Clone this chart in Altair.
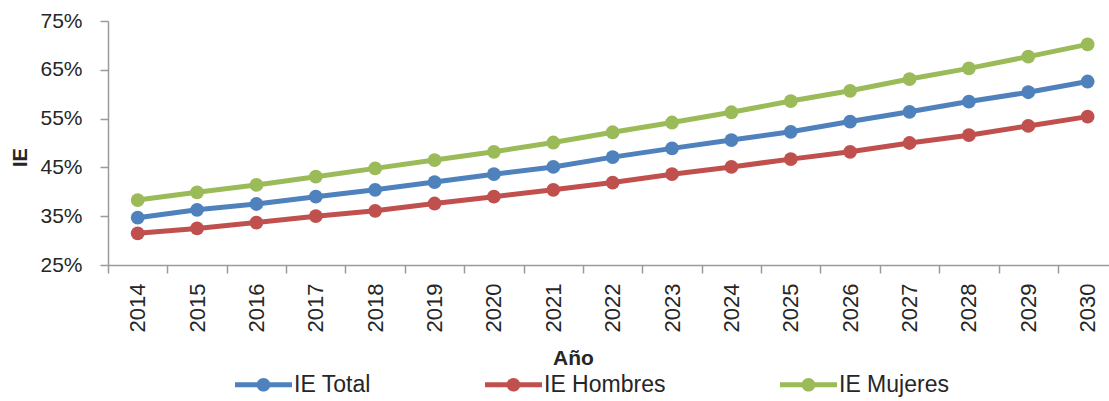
import altair as alt
import pandas as pd

years = list(range(2014, 2031))
ie_total = [34.7, 36.3, 37.5, 39.0, 40.4, 42.0, 43.6, 45.1, 47.1, 48.9, 50.6, 52.3, 54.4, 56.4, 58.5, 60.4, 62.6]
ie_hombres = [31.5, 32.5, 33.7, 35.0, 36.1, 37.6, 39.0, 40.4, 41.9, 43.6, 45.1, 46.7, 48.2, 50.0, 51.6, 53.5, 55.4]
ie_mujeres = [38.3, 39.9, 41.4, 43.1, 44.8, 46.5, 48.2, 50.1, 52.2, 54.2, 56.3, 58.6, 60.7, 63.1, 65.3, 67.7, 70.2]
series_names = ["IE Total", "IE Hombres", "IE Mujeres"]
series_colors = ["#4F81BD", "#C0504D", "#9BBB59"]
y_ticks = [0.25, 0.35, 0.45, 0.55, 0.65, 0.75]

rows = []
for name, vals in zip(series_names, [ie_total, ie_hombres, ie_mujeres]):
    for yr, v in zip(years, vals):
        rows.append({"Año": yr, "IE": v / 100.0, "Serie": name})
df = pd.DataFrame(rows)

PLOT_W = 1001
PLOT_H = 244
X_MIN = 2013.5
X_MAX = 2030.36
STEP = PLOT_W / (X_MAX - X_MIN)

FONT = "Liberation Sans"
TXT = "#262626"
AX = "#9a9a9a"

legend_sym = ("M-1,-0.09H1V0.09H-1Z "
              "M0.24,0A0.24,0.24 0 1,1 -0.24,0A0.24,0.24 0 1,1 0.24,0Z")

x_enc = alt.X(
    "Año:Q",
    scale=alt.Scale(domain=[X_MIN, X_MAX], nice=False, zero=False),
    axis=alt.Axis(
        values=years, format="d", labelAngle=270, labelAlign="right",
        labelBaseline="middle", tickOffset=-STEP / 2, labelOffset=STEP / 2,
        tickSize=8, labelPadding=10, labelFontSize=22, labelFont=FONT,
        labelColor=TXT, domainColor=AX, tickColor=AX, domainWidth=1.5,
        tickWidth=1.5, grid=False, title="Año", titleFont=FONT,
        titleFontSize=21, titleFontWeight="bold", titleColor=TXT,
        titleX=465, titleY=99, titleAlign="center", titleBaseline="alphabetic",
        labelOverlap=False,
    ),
)
y_enc = alt.Y(
    "IE:Q",
    scale=alt.Scale(domain=[0.25, 0.75], nice=False, zero=False),
    axis=alt.Axis(
        values=y_ticks, format=".0%", tickSize=8, labelPadding=18,
        labelFontSize=21, labelFont=FONT, labelColor=TXT, domainColor=AX,
        tickColor=AX, domainWidth=1.5, tickWidth=1.5, grid=False, title="IE",
        titleFont=FONT, titleFontSize=20, titleFontWeight="bold",
        titleColor=TXT, titleAngle=270, titleX=-88, titleY=136,
        titleAlign="center", titleBaseline="middle", labelOverlap=False,
    ),
)
color_enc = alt.Color(
    "Serie:N",
    scale=alt.Scale(domain=series_names, range=series_colors),
    legend=alt.Legend(
        orient="none", legendX=127, legendY=335, direction="horizontal",
        title=None, symbolType=legend_sym, symbolSize=57 * 57,
        symbolStrokeWidth=0, symbolOpacity=1, labelFontSize=23,
        labelFont=FONT, labelColor=TXT, labelOffset=2, columnPadding=114,
        labelLimit=0, padding=0,
    ),
)

base = alt.Chart(df)
lines = base.mark_line(strokeWidth=5).encode(
    x=x_enc, y=y_enc, color=color_enc, detail="Serie:N"
)
points = base.mark_point(filled=True, size=190, opacity=1).encode(
    x=x_enc, y=y_enc, color=color_enc
)

chart = (
    alt.layer(lines, points)
    .properties(
        width=PLOT_W, height=PLOT_H,
        autosize=alt.AutoSizeParams(type="none"),
        padding={"left": 108, "top": 21, "right": 0, "bottom": 136},
        background="white",
    )
    .configure_view(stroke=None)
)

chart.save("out.html", embed_options={"renderer": "svg", "actions": False})
